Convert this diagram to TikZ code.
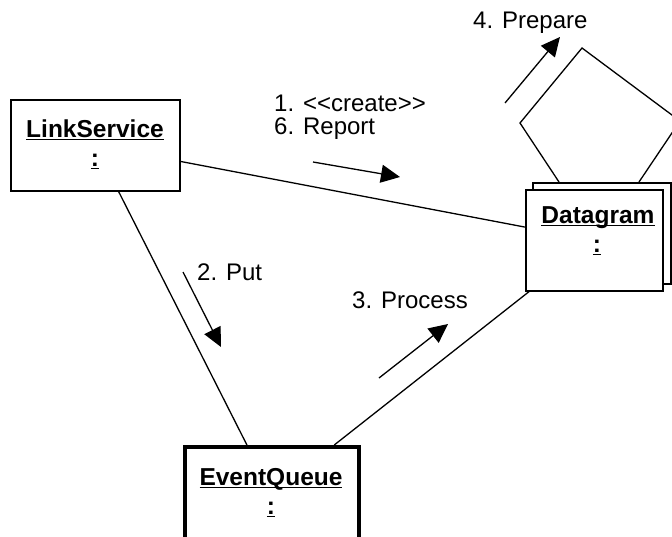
\documentclass[tikz,border=0pt]{standalone}
\usepackage{fontspec}
\setmainfont{Liberation Sans}
\newfontfamily\msgfont[Ligatures=TeXOff]{Liberation Sans}
\newfontfamily\objfont[Ligatures=TeXOff]{Liberation Sans}
\usetikzlibrary{arrows.meta}
% underline that sits just under the baseline, crossing descenders
\newcommand\undl[1]{\setbox0\hbox{#1}\rlap{\rule[-3.2pt]{\wd0}{1.5pt}}\box0}

\begin{document}
\begin{tikzpicture}[x=1pt,y=-1pt,
  objbox/.style={draw,line width=1.5pt,fill=white,inner sep=0pt,anchor=north west},
  conn/.style={line width=1.3pt},
  msg/.style={line width=1.3pt,-{Triangle[length=19pt,width=18pt]}},
  msglbl/.style={anchor=base west,inner sep=0pt,font=\msgfont\fontsize{24}{28}\selectfont},
  objlbl/.style={anchor=base,inner sep=0pt,font=\objfont\bfseries\fontsize{24.5}{28}\selectfont}]
\useasboundingbox (0,0) rectangle (672,536);
\fill[white] (0,0) rectangle (672,536);
\clip (0,0) rectangle (672,536);

% self-call loop on Datagram
\coordinate (l1) at (559,182);
\coordinate (l2) at (520,123);
\coordinate (l3) at (582,48);
\coordinate (l4) at (680,121);
\coordinate (l5) at (639,182);
\draw[conn,line join=miter] (l1) -- (l2) -- (l3) -- (l4) -- (l5);

% objects (Datagram is a multi-object: a back sheet behind the front one)
\node[objbox,minimum width=169pt,minimum height=91pt] (ls) at (10,99) {};
\node[objbox,minimum width=138pt,minimum height=101pt] (db) at (532,182) {};
\node[objbox,minimum width=137pt,minimum height=101pt] (d) at (525,189) {};
\node[objbox,line width=3.5pt,minimum width=174pt,minimum height=95pt] (eq) at (183,445) {};

% links
\draw[conn] (ls) -- (d);
\draw[conn] (ls) -- (eq);
\draw[conn] (eq) -- (d);

% object names
\node[objlbl] (lsn) at (95,137) {\undl{LinkService}};
\node[objlbl] (lsc) at (95,166) {\undl{:}};
\node[objlbl] (dn) at (598,223) {\undl{Datagram}};
\node[objlbl] (dc) at (597,252) {\undl{:}};
\node[objlbl] (eqn) at (271,485) {\undl{EventQueue}};
\node[objlbl] (eqc) at (271,514) {\undl{:}};

% message arrows
\coordinate (m1s) at (313,162); \coordinate (m1e) at (400,177);
\coordinate (m2s) at (183,272); \coordinate (m2e) at (221,347);
\coordinate (m3s) at (379,378); \coordinate (m3e) at (448,324);
\coordinate (m4s) at (505,103); \coordinate (m4e) at (560,37);
\draw[msg] (m1s) -- (m1e);
\draw[msg] (m2s) -- (m2e);
\draw[msg] (m3s) -- (m3e);
\draw[msg] (m4s) -- (m4e);

% message labels
\node[msglbl] (t1) at (274,111) {1. <<create>>};
\node[msglbl] (t6) at (274,134) {6. Report};
\node[msglbl] (t2) at (197,280) {2. Put};
\node[msglbl] (t3) at (352,308) {3. Process};
\node[msglbl] (t4) at (473,28) {4. Prepare};
\end{tikzpicture}
\end{document}
